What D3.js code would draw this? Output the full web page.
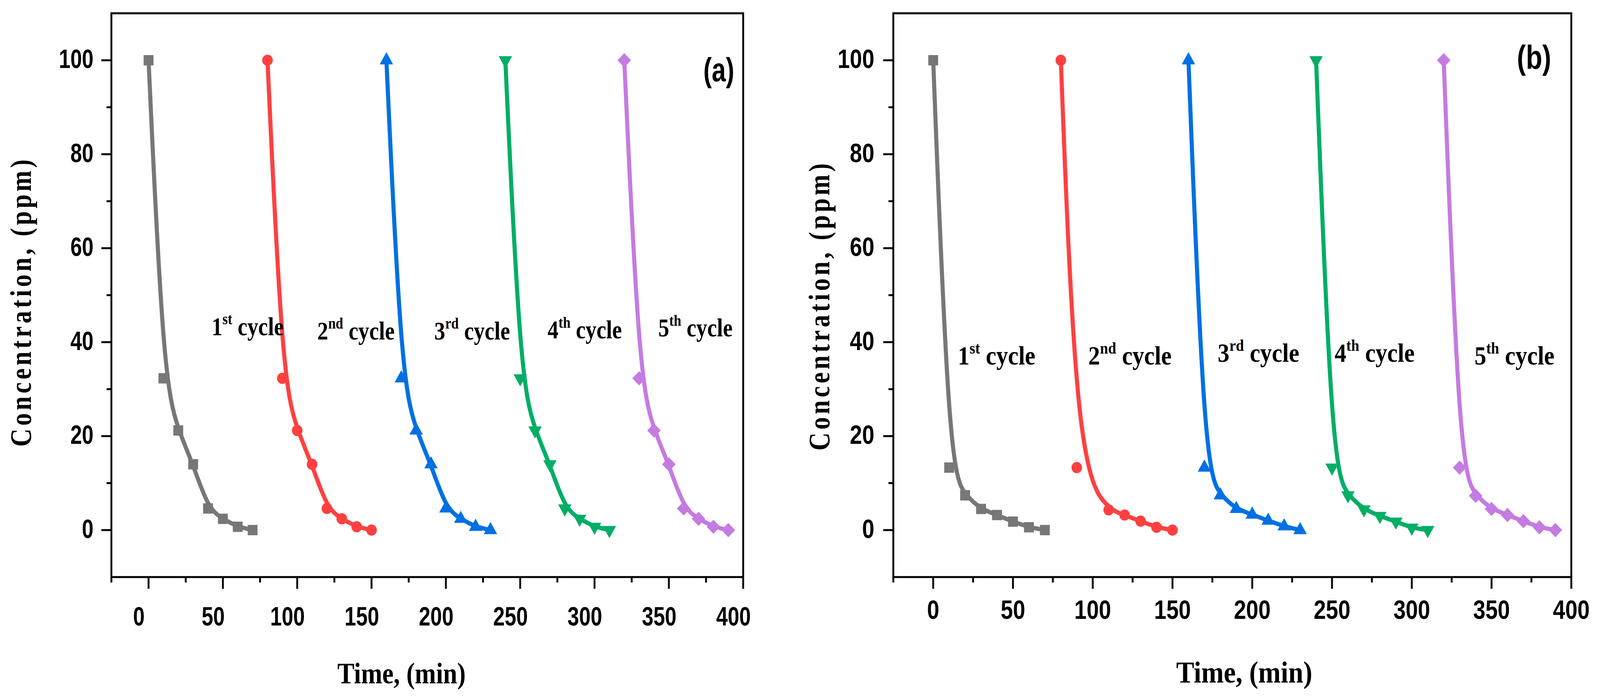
<!DOCTYPE html>
<html>
<head>
<meta charset="utf-8">
<script src="https://cdn.jsdelivr.net/npm/d3@7"></script>
<style>
  html, body { margin: 0; padding: 0; width: 100%; height: 100%; overflow: hidden; background: #fff; }
  #chart { display: block; width: 100vw; height: 100vh; }
  .tick-label { font-family: "Liberation Sans Narrow", "Liberation Sans", Arial, sans-serif; font-weight: bold; fill: #000; }
  .serif { font-family: "Liberation Serif", "Times New Roman", serif; font-weight: bold; fill: #000; }
</style>
</head>
<body>
<svg id="chart" viewBox="0 0 4295 1784" preserveAspectRatio="none"></svg>
<script>

// cycles
var cycleNum = ["1", "2", "3", "4", "5"];
var cycleSup = ["st", "nd", "rd", "th", "th"];
var cycleColors = ["#777777", "#FF4040", "#0070E3", "#00AE66", "#C47BE2"];

// axis ticks
var xTicks = [0, 50, 100, 150, 200, 250, 300, 350, 400];
var xMinor = [-25, 25, 75, 125, 175, 225, 275, 325, 375];
var yTicks = [0, 20, 40, 60, 80, 100];
var yMinor = [10, 30, 50, 70, 90];

// panel (a) : time (min) and concentration (ppm) per cycle
var timeA1 = [0, 10, 20, 30, 40, 50, 60, 70];
var concA1 = [100, 32.3, 21.2, 14.0, 4.6, 2.4, 0.7, 0];
var timeA2 = [80, 90, 100, 110, 120, 130, 140, 150];
var concA2 = [100, 32.3, 21.2, 14.0, 4.6, 2.4, 0.7, 0];
var timeA3 = [160, 170, 180, 190, 200, 210, 220, 230];
var concA3 = [100, 32.3, 21.2, 14.0, 4.6, 2.4, 0.7, 0];
var timeA4 = [240, 250, 260, 270, 280, 290, 300, 310];
var concA4 = [100, 32.3, 21.2, 14.0, 4.6, 2.4, 0.7, 0];
var timeA5 = [320, 330, 340, 350, 360, 370, 380, 390];
var concA5 = [100, 32.3, 21.2, 14.0, 4.6, 2.4, 0.7, 0];

// panel (b)
var timeB1 = [0, 10, 20, 30, 40, 50, 60, 70];
var concB1 = [100, 13.3, 7.4, 4.5, 3.2, 1.8, 0.6, 0];
var timeB2 = [80, 90, 110, 120, 130, 140, 150];
var concB2 = [100, 13.3, 4.3, 3.2, 1.9, 0.6, 0];
var timeB3 = [160, 170, 180, 190, 200, 210, 220, 230];
var concB3 = [100, 13.3, 7.4, 4.5, 3.3, 2.0, 0.8, 0];
var timeB4 = [240, 250, 260, 270, 280, 290, 300, 310];
var concB4 = [100, 13.3, 7.4, 4.4, 3.0, 1.8, 0.5, 0];
var timeB5 = [320, 330, 340, 350, 360, 370, 380, 390];
var concB5 = [100, 13.3, 7.3, 4.5, 3.2, 1.9, 0.6, 0];

// where the cycle captions sit, in data units (time, conc)
var captionTimeA = [42.4, 113.5, 192.2, 268.4, 342.9];
var captionConcA = [41.5, 40.6, 40.6, 40.8, 41.2];
var captionTimeB = [15.4, 97.2, 178.3, 251.6, 339.3];
var captionConcB = [35.2, 35.2, 35.8, 35.8, 35.2];

function zipSeries(times, concs) {
  return times.map(function(t, i) {
    return times[i].map(function(d, j) { return {t: d, c: concs[i][j]}; });
  });
}

var panels = [
  {
    tag: "(a)",
    series: zipSeries([timeA1, timeA2, timeA3, timeA4, timeA5], [concA1, concA2, concA3, concA4, concA5]),
    capT: captionTimeA, capC: captionConcA,
    x0: 299, x1: 1995, sx: 1.0,
    xLabShift: -26, xLabBase: 124, yLabGap: 48,
    capFont: 65, capScale: 0.9,
    yTitleX: 83, yTitleY: 772,
    xTitleX: 1078, xTitleY: 1749, xTitleScale: 0.9, xTitleFont: 76,
    tagX: 1888, tagY: 208
  },
  {
    tag: "(b)",
    series: zipSeries([timeB1, timeB2, timeB3, timeB4, timeB5], [concB1, concB2, concB3, concB4, concB5]),
    capT: captionTimeB, capC: captionConcB,
    x0: 2398, x1: 4218, sx: 1.06,
    xLabShift: 0, xLabBase: 107, yLabGap: 51,
    capFont: 67, capScale: 0.94,
    yTitleX: 2226, yTitleY: 782,
    xTitleX: 3340, xTitleY: 1747, xTitleScale: 0.93, xTitleFont: 78,
    tagX: 4072, tagY: 176
  }
];

var svg = d3.select("#chart");
svg.append("rect").attr("width", 4295).attr("height", 1784).attr("fill", "#fff");

var top_ = 34, bottom_ = 1477;
var symbols = [
  {type: d3.symbolSquare, size: 700, rot: 0},
  {type: d3.symbolCircle, size: 640, rot: 0},
  {type: d3.symbolTriangle, size: 560, rot: 0},
  {type: d3.symbolTriangle, size: 560, rot: 180},
  {type: d3.symbolSquare, size: 660, rot: 45}
];

var tickFont = 68;

panels.forEach(function(p) {
  var x = d3.scaleLinear().domain([-25, 400]).range([p.x0, p.x1]);
  var y = d3.scaleLinear().domain([-10, 110]).range([bottom_, top_]);
  var g = svg.append("g");

  // ticks (outward)
  var tk = g.append("g").attr("stroke", "#000").attr("stroke-width", 5);
  xTicks.forEach(function(v) {
    tk.append("line").attr("x1", x(v)).attr("x2", x(v)).attr("y1", bottom_).attr("y2", bottom_ + 30);
  });
  xMinor.forEach(function(v) {
    tk.append("line").attr("x1", x(v)).attr("x2", x(v)).attr("y1", bottom_).attr("y2", bottom_ + 14);
  });
  yTicks.forEach(function(v) {
    tk.append("line").attr("x1", p.x0).attr("x2", p.x0 - 27).attr("y1", y(v)).attr("y2", y(v));
  });
  yMinor.forEach(function(v) {
    tk.append("line").attr("x1", p.x0).attr("x2", p.x0 - 13).attr("y1", y(v)).attr("y2", y(v));
  });

  // frame
  g.append("rect")
    .attr("x", p.x0).attr("y", top_)
    .attr("width", p.x1 - p.x0).attr("height", bottom_ - top_)
    .attr("fill", "none").attr("stroke", "#000").attr("stroke-width", 5);

  // tick labels
  xTicks.forEach(function(v) {
    var s = String(v);
    g.append("text").attr("class", "tick-label")
      .attr("x", x(v) + p.xLabShift).attr("y", bottom_ + p.xLabBase)
      .attr("text-anchor", "middle").attr("font-size", tickFont)
      .attr("textLength", s.length * 0.456 * tickFont * p.sx)
      .attr("lengthAdjust", "spacingAndGlyphs")
      .text(s);
  });
  yTicks.forEach(function(v) {
    var s = String(v);
    g.append("text").attr("class", "tick-label")
      .attr("x", p.x0 - p.yLabGap).attr("y", y(v) + 20)
      .attr("text-anchor", "end").attr("font-size", tickFont)
      .attr("textLength", s.length * 0.456 * tickFont * p.sx)
      .attr("lengthAdjust", "spacingAndGlyphs")
      .text(s);
  });

  // curves (B-spline) then markers
  var line = d3.line()
    .x(function(d) { return x(d.t); })
    .y(function(d) { return y(d.c); })
    .curve(d3.curveBasis);

  p.series.forEach(function(pts, i) {
    g.append("path").datum(pts)
      .attr("d", line)
      .attr("fill", "none")
      .attr("stroke", cycleColors[i])
      .attr("stroke-width", 11)
      .attr("stroke-linejoin", "round");
  });

  p.series.forEach(function(pts, i) {
    var sym = symbols[i];
    g.selectAll(null).data(pts).enter().append("path")
      .attr("d", d3.symbol().type(sym.type).size(sym.size))
      .attr("transform", function(d) { return "translate(" + x(d.t) + "," + y(d.c) + ") rotate(" + sym.rot + ")"; })
      .attr("fill", cycleColors[i]);
  });

  // cycle captions
  cycleNum.forEach(function(n, i) {
    var t = g.append("text").attr("class", "serif")
      .attr("font-size", p.capFont)
      .attr("transform", "translate(" + x(p.capT[i]) + "," + y(p.capC[i]) + ") scale(" + p.capScale + ",1)");
    t.append("tspan").text(n);
    t.append("tspan").attr("font-size", p.capFont * 0.62).attr("dy", -p.capFont * 0.42).text(cycleSup[i]);
    t.append("tspan").attr("dy", p.capFont * 0.42).text(" cycle");
  });

  // panel tag
  g.append("text").attr("class", "tick-label")
    .attr("font-size", 85)
    .attr("transform", "translate(" + p.tagX + "," + p.tagY + ") scale(" + (0.8 * p.sx) + ",1)")
    .text(p.tag);

  // axis titles
  g.append("text").attr("class", "serif")
    .attr("font-size", p.xTitleFont)
    .attr("text-anchor", "middle")
    .attr("transform", "translate(" + p.xTitleX + "," + p.xTitleY + ") scale(" + p.xTitleScale + ",1)")
    .text("Time, (min)");

  g.append("text").attr("class", "serif")
    .attr("font-size", 80)
    .attr("letter-spacing", 9.3)
    .attr("text-anchor", "middle")
    .attr("transform", "translate(" + p.yTitleX + "," + p.yTitleY + ") rotate(-90) scale(0.8,1)")
    .text("Concentration, (ppm)");
});

</script>
</body>
</html>
